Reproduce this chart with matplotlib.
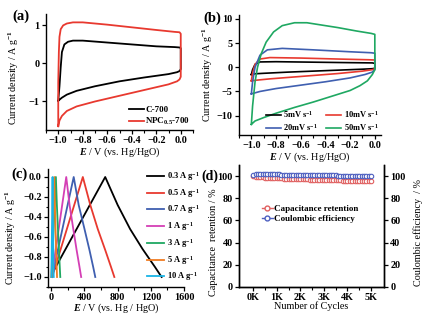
import numpy as np
import matplotlib.pyplot as plt
from matplotlib.lines import Line2D

plt.rcParams['font.family'] = ['Liberation Serif', 'DejaVu Serif']
plt.rcParams['font.weight'] = 'bold'
plt.rcParams['mathtext.fontset'] = 'custom'
plt.rcParams['mathtext.rm'] = 'Liberation Serif:bold'
plt.rcParams['mathtext.it'] = 'Liberation Serif:italic:bold'
plt.rcParams['axes.linewidth'] = 1.0

# (a) CV curves, loop points (E, j)
a_c700_E = [-1.0, -0.99, -0.98, -0.97, -0.95, -0.92, -0.88, -0.8, -0.6, -0.4, -0.2, -0.05, -0.01, 0.0, 0.0, -0.01, -0.03, -0.1, -0.3, -0.5, -0.7, -0.85, -0.93, -0.97, -1.0]
a_c700_j = [-0.98, -0.6, -0.1, 0.3, 0.5, 0.57, 0.6, 0.6, 0.55, 0.5, 0.45, 0.43, 0.42, 0.4, -0.15, -0.2, -0.23, -0.28, -0.37, -0.47, -0.6, -0.72, -0.82, -0.9, -0.98]
a_npc_E = [-1.0, -1.0, -0.995, -0.99, -0.98, -0.96, -0.93, -0.88, -0.8, -0.6, -0.4, -0.2, -0.05, -0.01, 0.0, 0.0, -0.01, -0.03, -0.1, -0.3, -0.5, -0.7, -0.85, -0.93, -0.97, -0.99, -1.0]
a_npc_j = [-1.65, -0.5, 0.3, 0.7, 0.9, 1.0, 1.05, 1.08, 1.08, 1.02, 0.95, 0.88, 0.83, 0.82, 0.78, -0.35, -0.42, -0.47, -0.55, -0.7, -0.85, -1.0, -1.13, -1.25, -1.38, -1.5, -1.65]

# (b) CV curves at different scan rates
b_E5 = [-1.0, -0.99, -0.97, -0.93, -0.8, -0.5, -0.2, -0.02, 0.0, 0.0, -0.02, -0.1, -0.4, -0.7, -0.9, -0.97, -1.0]
b_j5 = [-1.5, -0.5, 0.6, 1.1, 1.15, 1.05, 0.95, 0.9, 0.8, -0.2, -0.3, -0.4, -0.7, -1.0, -1.25, -1.35, -1.5]
b_E10 = [-1.0, -0.99, -0.97, -0.93, -0.85, -0.6, -0.3, -0.05, 0.0, 0.0, -0.02, -0.1, -0.3, -0.6, -0.85, -0.95, -1.0]
b_j10 = [-2.8, -1.2, 0.6, 1.7, 2.0, 1.9, 1.7, 1.55, 1.5, -0.3, -0.5, -0.8, -1.3, -1.9, -2.4, -2.65, -2.8]
b_E20 = [-1.0, -0.99, -0.97, -0.93, -0.87, -0.75, -0.5, -0.2, -0.03, 0.0, 0.0, -0.02, -0.08, -0.2, -0.4, -0.6, -0.8, -0.93, -1.0]
b_j20 = [-5.5, -3.0, 0.0, 2.5, 3.6, 3.9, 3.6, 3.2, 3.0, 2.9, -0.5, -1.0, -1.5, -2.2, -3.0, -3.7, -4.4, -5.0, -5.5]
b_E50 = [-1.0, -0.99, -0.97, -0.95, -0.92, -0.88, -0.82, -0.75, -0.65, -0.55, -0.45, -0.3, -0.15, -0.03, 0.0, 0.0, -0.02, -0.06, -0.12, -0.2, -0.35, -0.5, -0.65, -0.8, -0.9, -0.97, -1.0]
b_j50 = [-11.8, -8.0, -3.0, 0.0, 2.8, 5.2, 7.3, 8.6, 9.2, 9.2, 8.8, 8.2, 7.5, 7.0, 6.8, -0.5, -1.5, -2.8, -3.8, -4.8, -6.0, -7.2, -8.3, -9.5, -10.4, -11.1, -11.8]

# (c) charge/discharge: (time, potential) for each current density
c_labels = ['0.3 A g$^{-1}$', '0.5 A g$^{-1}$', '0.7 A g$^{-1}$', '1 A g$^{-1}$', '3 A g$^{-1}$', '5 A g$^{-1}$', '10 A g$^{-1}$']
c_t = [
    [20, 650, 800, 950, 1100, 1250, 1330],
    [10, 380, 470, 560, 650, 720, 760],
    [8, 270, 330, 400, 460, 505, 530],
    [5, 180, 220, 265, 305, 340, 360],
    [3, 55, 67, 80, 92, 102, 108],
    [2, 35, 43, 51, 58, 65, 69],
    [1, 15, 18, 21, 24, 27, 29],
]
c_v = [
    [-0.95, 0.0, -0.28, -0.52, -0.72, -0.9, -1.0],
    [-1.0, 0.0, -0.28, -0.52, -0.73, -0.9, -1.0],
    [-1.0, 0.0, -0.28, -0.52, -0.73, -0.9, -1.0],
    [-1.0, 0.0, -0.28, -0.52, -0.73, -0.9, -1.0],
    [-1.0, 0.0, -0.28, -0.52, -0.73, -0.9, -1.0],
    [-1.0, 0.0, -0.28, -0.52, -0.73, -0.9, -1.0],
    [-1.0, 0.0, -0.28, -0.52, -0.73, -0.9, -1.0],
]
c_colors = ['black', '#e8392f', '#3f5fb0', '#d43fb5', '#1fa862', '#f07c22', '#19b4e6']

# (d) cycling stability, every 100 cycles
d_cycles = list(range(0, 5001, 100))
d_retention = [100.0, 99.6, 99.2, 98.9, 98.8, 98.6, 98.5, 98.5, 98.3, 98.2, 98.1,
               98.0, 98.0, 97.8, 97.7, 97.6, 97.6, 97.4, 97.3, 97.3, 97.2,
               97.1, 97.0, 97.0, 96.9, 96.8, 96.8, 96.7, 96.6, 96.6, 96.5,
               96.4, 96.4, 96.3, 96.3, 96.2, 96.2, 96.1, 96.0, 96.0, 95.9,
               95.9, 95.8, 95.8, 95.7, 95.7, 95.6, 95.6, 95.5, 95.5, 95.4]
d_coulombic = [101.0, 102.0, 102.2, 102.0, 101.9, 101.8, 101.8, 101.7, 101.6, 101.6, 101.5,
               101.5, 101.4, 101.4, 101.3, 101.3, 101.2, 101.2, 101.1, 101.1, 101.0,
               101.0, 101.0, 100.9, 100.9, 100.9, 100.8, 100.8, 100.8, 100.7, 100.7,
               100.7, 100.6, 100.6, 100.6, 100.6, 100.5, 100.5, 100.5, 100.5, 100.4,
               100.4, 100.4, 100.4, 100.4, 100.3, 100.3, 100.3, 100.3, 100.3, 100.3]

fig = plt.figure(figsize=(4.28, 3.16), dpi=100)
W, H = 428, 316


def px_axes(l, t, r, b):
    return fig.add_axes([l / W, 1 - b / H, (r - l) / W, (b - t) / H])


def style(ax):
    for s in ['top', 'right']:
        ax.spines[s].set_visible(False)
    ax.tick_params(labelsize=7.3, length=3, width=0.9, pad=1.5)
    ax.tick_params(which='minor', length=1.8, width=0.8)


xl = '$E$ / V (vs. Hg/HgO)'
yl = 'Current density / A g$^{-1}$'
lab_fs = 7.3

# panel a
ax = px_axes(46, 14, 193, 130)
style(ax)
ax.plot(a_c700_E, a_c700_j, color='black', lw=1.3, label='C-700')
ax.plot(a_npc_E, a_npc_j, color='#e8392f', lw=1.3, label='NPC$_{\\rm 0.5}$-700')
ax.set_xlim(-1.1, 0.1)
ax.set_ylim(-1.75, 1.3)
ax.set_xticks([-1.0, -0.8, -0.6, -0.4, -0.2, 0.0])
ax.set_xticks(np.arange(-1.1, 0.1, 0.1), minor=True)
ax.set_yticks([-1, 0, 1])
ax.set_xlabel(xl, fontsize=lab_fs, labelpad=0)
ax.set_ylabel(yl, fontsize=lab_fs)
ax.yaxis.set_label_coords(-0.17, 0.45)
ax.legend(loc='lower right', fontsize=6.5, frameon=False, handlelength=1.6,
          handletextpad=0.2, borderpad=0.1, labelspacing=0.2, borderaxespad=0.2)
fig.text(12 / W, 1 - 16 / H, '(a)', fontsize=10.5, va='center')

# panel b
ax = px_axes(239, 15, 381, 135)
style(ax)
l5, = ax.plot(b_E5, b_j5, color='black', lw=1.2)
l10, = ax.plot(b_E10, b_j10, color='#e8392f', lw=1.2)
l20, = ax.plot(b_E20, b_j20, color='#3f5fb0', lw=1.2)
l50, = ax.plot(b_E50, b_j50, color='#1fa862', lw=1.2)
ax.set_xlim(-1.1, 0.05)
ax.set_ylim(-14, 10.8)
ax.set_xticks([-1.0, -0.8, -0.6, -0.4, -0.2, 0.0])
ax.set_xticks(np.arange(-1.1, 0.05, 0.1), minor=True)
ax.set_yticks([-10, -5, 0, 5, 10])
ax.set_xlabel(xl, fontsize=lab_fs, labelpad=0)
ax.set_ylabel(yl, fontsize=lab_fs, labelpad=1)
ax.legend([l5, l20, l10, l50],
          ['5mV s$^{-1}$', '20mV s$^{-1}$', '10mV s$^{-1}$', '50mV s$^{-1}$'],
          ncol=2, loc='lower right', fontsize=6, frameon=False, handlelength=1.8,
          handletextpad=0.3, columnspacing=1.0, borderpad=0.1, labelspacing=0.2,
          borderaxespad=0.2)
fig.text(203 / W, 1 - 18 / H, '(b)', fontsize=10.5, va='center')

# panel c
ax = px_axes(48, 169, 184, 287)
style(ax)
for t, v, c, lab in zip(c_t, c_v, c_colors, c_labels):
    ax.plot(t, v, color=c, lw=1.3, label=lab)
ax.set_xlim(-40, 1600)
ax.set_ylim(-1.1, 0.08)
ax.set_xticks([0, 400, 800, 1200, 1600])
ax.set_xticks(np.arange(200, 1600, 400), minor=True)
ax.set_yticks([-1.0, -0.8, -0.6, -0.4, -0.2, 0.0])
ax.set_yticks(np.arange(-1.1, 0.05, 0.1), minor=True)
ax.set_xlabel('$E$ / V (vs. Hg / HgO)', fontsize=lab_fs, labelpad=-0.5)
ax.set_ylabel(yl, fontsize=lab_fs)
ax.yaxis.set_label_coords(-0.22, 0.42)
ax.legend(loc='upper right', fontsize=6, frameon=False, handlelength=2.0,
          handletextpad=0.3, borderpad=0.1, labelspacing=0.45,
          borderaxespad=0.0, bbox_to_anchor=(1.12, 1.0))
fig.text(11 / W, 1 - 174 / H, '(c)', fontsize=10.5, va='center')

# panel d
ax = px_axes(239, 165, 384, 287)
ax.spines['top'].set_visible(False)
ax.tick_params(labelsize=7.3, length=3, width=0.9, pad=1.5)
ax.tick_params(which='minor', length=1.8, width=0.8)
ax.plot(d_cycles, d_retention, 'o', ms=3.2, mfc='white', mec='#e06060', mew=0.8)
ax.plot(d_cycles, d_coulombic, 'o', ms=3.2, mfc='white', mec='#4d5fc0', mew=0.8)
ax.set_xlim(-600, 5550)
ax.set_ylim(0, 110)
ax.set_xticks([0, 1000, 2000, 3000, 4000, 5000])
ax.set_xticklabels(['0K', '1K', '2K', '3K', '4K', '5K'])
ax.set_xticks(np.arange(500, 5500, 1000), minor=True)
ax.set_yticks([0, 20, 40, 60, 80, 100])
ax.set_xlabel('Number of Cycles', fontsize=lab_fs, labelpad=-0.5)
ax.set_ylabel('Capacitance  retention / %', fontsize=lab_fs)
ax.yaxis.set_label_coords(-0.145, 0.37)
ax2 = ax.twinx()
ax2.spines['top'].set_visible(False)
ax2.set_ylim(0, 110)
ax2.set_yticks([0, 20, 40, 60, 80, 100])
ax2.tick_params(labelsize=7.3, length=3, width=0.9, pad=1.5)
ax2.set_ylabel('Coulombic efficiency  / %', fontsize=lab_fs)
ax2.yaxis.set_label_coords(1.2, 0.45)
h = [Line2D([], [], color='#e06060', marker='o', ms=3.5, mfc='white', lw=1.0),
     Line2D([], [], color='#4d5fc0', marker='o', ms=3.5, mfc='white', lw=1.0)]
ax.legend(h, ['Capacitance retention', 'Coulombic efficiency'], loc='upper left',
          bbox_to_anchor=(0.12, 0.72), fontsize=6.5, frameon=False, handlelength=1.2,
          handletextpad=0.2, borderpad=0.1, labelspacing=0.2)
fig.text(201 / W, 1 - 176 / H, '(d)', fontsize=10, va='center')

fig.savefig('out.png', dpi=100)
